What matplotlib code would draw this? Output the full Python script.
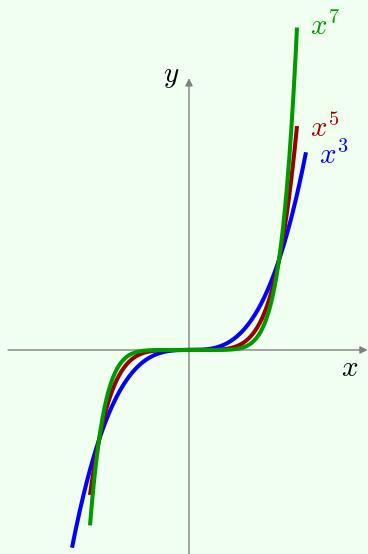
import numpy as np
import matplotlib.pyplot as plt

plt.rcParams["mathtext.fontset"] = "cm"

# curves y = x**n, with the plotted x range of each
exponents = [3, 5, 7]
x_start = [-1.3, -1.1, -1.1]
x_end = [1.3, 1.2, 1.2]
colors = ["#0000ff", "#990000", "#009900"]
labels = [r"$x^3$", r"$x^5$", r"$x^7$"]
label_pos = [(1.45, 2.07), (1.35, 2.37), (1.35, 3.5)]

bg = "#f0fff0"
fig = plt.figure(figsize=(3.68, 5.54), dpi=100, facecolor=bg)
ax = fig.add_axes([0, 0, 1, 1], facecolor=bg)
ax.set_xlim(-2.1, 1.989)
ax.set_ylim(-2.267, 3.889)
ax.axis("off")

# axes with arrows
arrow = dict(arrowstyle="-|>", color="#808080", lw=1.0, mutation_scale=11,
             shrinkA=0, shrinkB=0)
ax.annotate("", xy=(1.985, 0), xytext=(-2.01, 0), arrowprops=arrow,
            annotation_clip=False, zorder=1)
ax.annotate("", xy=(0, 3.02), xytext=(0, -2.4), arrowprops=arrow,
            annotation_clip=False, zorder=1)
ax.text(1.79, -0.2, r"$x$", fontsize=21, ha="center", va="center")
ax.text(-0.2, 3.05, r"$y$", fontsize=21, ha="center", va="center")

for n, a, b, c, lab, (lx, ly) in zip(exponents, x_start, x_end, colors, labels, label_pos):
    xs = np.linspace(a, b, 300)
    ax.plot(xs, xs ** n, color=c, lw=2.9, solid_capstyle="butt", zorder=2)
    ax.text(lx, ly, lab, color=c, fontsize=21, ha="left", va="baseline")

fig.savefig("out.png", dpi=100, facecolor=bg)
